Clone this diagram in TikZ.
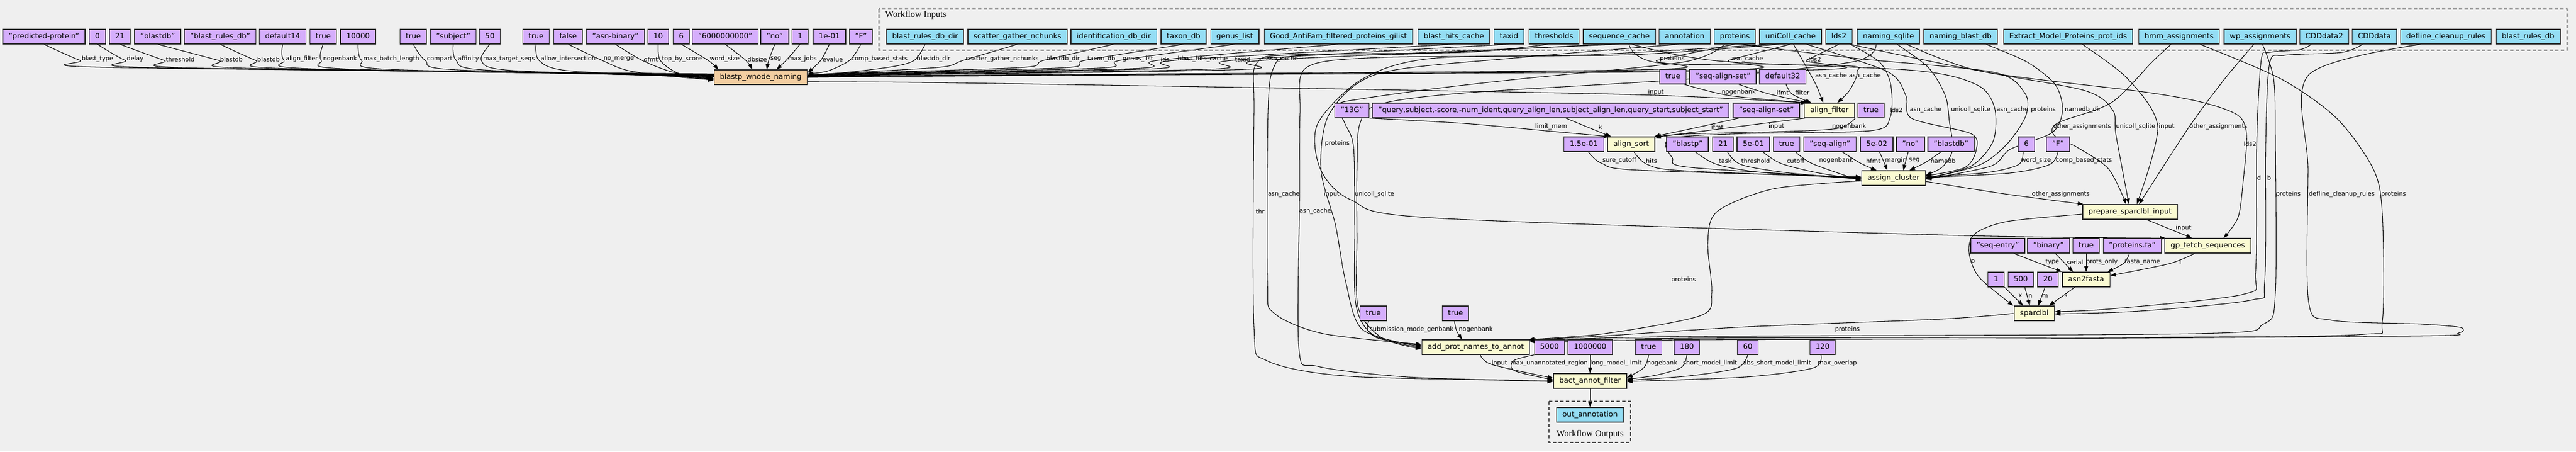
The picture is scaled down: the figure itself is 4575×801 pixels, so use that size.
\documentclass[tikz,border=0pt]{standalone}
\usepackage{fontspec}
\setmainfont{DejaVu Sans}
\newfontfamily\clusterfont{Liberation Serif}
\usetikzlibrary{positioning,calc,arrows.meta,backgrounds}
\definecolor{bgcol}{HTML}{EFEFEF}
\definecolor{constfill}{HTML}{D5AEFC}
\definecolor{inputfill}{HTML}{94DDF4}
\definecolor{stepfill}{HTML}{FAFAD2}
\definecolor{subwffill}{HTML}{F3CEA1}

\begin{document}
\begin{tikzpicture}[x=1pt,y=-1pt,
	box/.style={rectangle,draw=black!85,line width=1.3pt,minimum height=26pt,inner xsep=10.3pt,inner ysep=0pt,text height=9.5pt,text depth=3pt,font=\fontsize{13}{15}\selectfont},
	const/.style={box,fill=constfill},
	wfin/.style={box,fill=inputfill},
	stepbox/.style={box,fill=stepfill},
	subwf/.style={box,fill=subwffill},
	elabel/.style={inner sep=0pt,font=\fontsize{10.8}{12}\selectfont},
	wire/.style={line width=1.05pt,-{Triangle[length=10pt,width=7pt]}},
	clusterbox/.style={draw=black!70,line width=1.3pt,dash pattern=on 6pt off 4pt},
	clusterlab/.style={inner sep=0pt,font=\clusterfont\fontsize{16}{18}\selectfont}]
		\useasboundingbox (0,0) rectangle (4575,801);
		% clusters
		\draw[clusterbox] (1561,16) rectangle (4559,89);
		\node[clusterlab,anchor=west] (wfinlab) at (1572,27) {Workflow Inputs};
		\draw[clusterbox] (2751,712) rectangle (2896,785);
		\node[clusterlab] (wfoutlab) at (2824,771) {Workflow Outputs};
		% constants, first row
		\node[const] (kbt) at (78,65) {"predicted-protein"};
		\node[const] (kdl) at (173,65) {0};
		\node[const] (kth) at (213,65) {21};
		\node[const] (kbd) at (280,65) {"blastdb"};
		\node[const] (kbr) at (391,65) {"blast\_rules\_db"};
		\node[const] (kaf) at (502,65) {default14};
		\node[const] (kng) at (574,65) {true};
		\node[const] (kmb) at (636,65) {10000};
		\node[const] (kcp) at (734,65) {true};
		\node[const] (kafy) at (805,65) {"subject"};
		\node[const] (kmt) at (870,65) {50};
		\node[const] (kai) at (952,65) {true};
		\node[const] (knm) at (1009,65) {false};
		\node[const] (kof) at (1093,65) {"asn-binary"};
		\node[const] (ktb) at (1169,65) {10};
		\node[const] (kws) at (1210,65) {6};
		\node[const] (kds) at (1288,65) {"6000000000"};
		\node[const] (ksg) at (1376,65) {"no"};
		\node[const] (kmj) at (1421,65) {1};
		\node[const] (kev) at (1473,65) {1e-01};
		\node[const] (kcb) at (1529,65) {"F"};
		% workflow inputs
		\node[wfin] (ibrd) at (1643,65) {blast\_rules\_db\_dir};
		\node[wfin] (isgn) at (1807,65) {scatter\_gather\_nchunks};
		\node[wfin] (iidd) at (1978,65) {identification\_db\_dir};
		\node[wfin] (itx) at (2102,65) {taxon\_db};
		\node[wfin] (igl) at (2193,65) {genus\_list};
		\node[wfin] (igaf) at (2377,65) {Good\_AntiFam\_filtered\_proteins\_gilist};
		\node[wfin] (ibhc) at (2582,65) {blast\_hits\_cache};
		\node[wfin] (itid) at (2680,65) {taxid};
		\node[wfin] (ith) at (2760,65) {thresholds};
		\node[wfin] (isc) at (2876,65) {sequence\_cache};
		\node[wfin] (ian) at (2992,65) {annotation};
		\node[wfin] (ipr) at (3081,65) {proteins};
		\node[wfin] (iuc) at (3180,65) {uniColl\_cache};
		\node[wfin] (ilds) at (3266,65) {lds2};
		\node[wfin] (inqs) at (3354,65) {naming\_sqlite};
		\node[wfin] (inbd) at (3482,65) {naming\_blast\_db};
		\node[wfin] (iemp) at (3673,65) {Extract\_Model\_Proteins\_prot\_ids};
		\node[wfin] (ihmm) at (3870,65) {hmm\_assignments};
		\node[wfin] (iwp) at (4014,65) {wp\_assignments};
		\node[wfin] (icd2) at (4128,65) {CDDdata2};
		\node[wfin] (icd) at (4217,65) {CDDdata};
		\node[wfin] (idcr) at (4344,65) {defline\_cleanup\_rules};
		\node[wfin] (ibrdb) at (4490,65) {blast\_rules\_db};
		% steps
		\node[subwf] (bwn) at (1351,137) {blastp\_wnode\_naming};
		\node[stepbox] (af) at (3249,196) {align\_filter};
		\node[stepbox] (as) at (2897,256) {align\_sort};
		\node[stepbox] (ac) at (3363,316) {assign\_cluster};
		\node[stepbox] (pr) at (3783,376) {prepare\_sparclbl\_input};
		\node[stepbox] (gf) at (3921,436) {gp\_fetch\_sequences};
		\node[stepbox] (a2f) at (3705,496) {asn2fasta};
		\node[stepbox] (sp) at (3613,556) {sparclbl};
		\node[stepbox] (apn) at (2621,616) {add\_prot\_names\_to\_annot};
		\node[stepbox] (baf) at (2824,676) {bact\_annot\_filter};
		\node[wfin] (out) at (2824,736) {out\_annotation};
		% constants of the other steps
		\node[const] (kaft) at (2971,136) {true};
		\node[const] (kafi) at (3060,136) {"seq-align-set"};
		\node[const] (kaff) at (3166,136) {default32};
		\node[const] (k13) at (2401,196) {"13G"};
		\node[const] (kq) at (2754,196) {"query,subject,-score,-num\_ident,query\_align\_len,subject\_align\_len,query\_start,subject\_start"};
		\node[const] (kasi) at (3137,196) {"seq-align-set"};
		\node[const] (kasn) at (3323,196) {true};
		\node[const] (ksc) at (2813,256) {1.5e-01};
		\node[const] (ktk) at (2997,256) {"blastp"};
		\node[const] (kt21) at (3060,256) {21};
		\node[const] (kcut) at (3114,256) {5e-01};
		\node[const] (kacn) at (3173,256) {true};
		\node[const] (khf) at (3250,256) {"seq-align"};
		\node[const] (kmg) at (3333,256) {5e-02};
		\node[const] (kseg) at (3393,256) {"no"};
		\node[const] (knd) at (3465,256) {"blastdb"};
		\node[const] (kaws) at (3599,256) {6};
		\node[const] (kacb) at (3655,256) {"F"};
		\node[const] (kse) at (3548,436) {"seq-entry"};
		\node[const] (kbin) at (3638,436) {"binary"};
		\node[const] (kpo) at (3705,436) {true};
		\node[const] (kpf) at (3787,436) {"proteins.fa"};
		\node[const] (kx) at (3545,496) {1};
		\node[const] (kn) at (3589,496) {500};
		\node[const] (km) at (3637,496) {20};
		\node[const] (ksm) at (2439,556) {true};
		\node[const] (kng2) at (2585,556) {true};
		\node[const] (kmu) at (2752,616) {5000};
		\node[const] (kll) at (2824,616) {1000000};
		\node[const] (kbng) at (2928,616) {true};
		\node[const] (ksml) at (2996,616) {180};
		\node[const] (kasml) at (3104,616) {60};
		\node[const] (kmo) at (3237,616) {120};

		\begin{scope}[on background layer]
		\fill[bgcol] (0,0) rectangle (4575,801);
		% into blastp_wnode_naming, from the left
		\foreach \s/\t/\lx [count=\i] in {kbt/blast\_type/173,kdl/delay/240,kth/threshold/320,kbd/blastdb/411,kbr/blastdb/477,kaf/align\_filter/536,kng/nogenbank/604,kmb/max\_batch\_length/695,kcp/compart/781,kafy/affinity/832,kmt/max\_target\_seqs/904,kai/allow\_intersection/1009,knm/no\_merge/1099}{
			\node[elabel] (la\i) at (\lx,105) {\t};
			\draw[wire] plot[smooth] coordinates {(\s.south) ([xshift=-3pt,yshift=-2pt]la\i.west) ($(la\i.west)+(45,14+0.5*\i)$) (1205,130+0.5*\i) ([yshift={7pt-0.9pt*\i}]bwn.west)};
		}
		\node[elabel] (lof) at (1156,105) {ofmt};
		\draw[wire] plot[smooth] coordinates {(kof.south) ([xshift=-3pt,yshift=-2pt]lof.west) (1195,128) ([yshift=-4pt]bwn.west)};
		\node[elabel] (ltb) at (1211,105) {top\_by\_score};
		\draw[wire] plot[smooth] coordinates {(ktb.south) ([xshift=-3pt,yshift=-2pt]ltb.west) (1205,130) ([yshift=-6pt]bwn.west)};
		% from above
		\node[elabel] (lws) at (1287,105) {word\_size};
		\draw[wire] plot[smooth] coordinates {(kws.south) ([xshift=-3pt,yshift=-2pt]lws.west) ([xshift=-75pt]bwn.north)};
		\node[elabel] (ldbs) at (1345,105) {dbsize};
		\draw[wire] plot[smooth] coordinates {(kds.south) ([xshift=-3pt,yshift=-2pt]ldbs.west) ([xshift=-15pt]bwn.north)};
		\node[elabel] (lseg) at (1378,105) {seg};
		\draw[wire] plot[smooth] coordinates {(ksg.south) ([xshift=-3pt,yshift=-2pt]lseg.west) ([xshift=11pt]bwn.north)};
		\node[elabel] (lmj) at (1425,105) {max\_jobs};
		\draw[wire] plot[smooth] coordinates {(kmj.south) ([xshift=-3pt,yshift=-2pt]lmj.west) ([xshift=28pt]bwn.north)};
		% from the right
		\node[elabel] (lev) at (1479,105) {evalue};
		\draw[wire] plot[smooth] coordinates {(kev.south) ([xshift=-3pt,yshift=-2pt]lev.west) ([yshift=8pt]bwn.east)};
		\node[elabel] (lcbs) at (1562,105) {comp\_based\_stats};
		\draw[wire] plot[smooth] coordinates {(kcb.south) ([xshift=-3pt,yshift=-2pt]lcbs.west) (1470,126) ([yshift=6pt]bwn.east)};
		\foreach \s/\t/\lx [count=\i] in {ibrd/blastdb\_dir/1658,isgn/scatter\_gather\_nchunks/1780,iidd/blastdb\_dir/1888,itx/taxon\_db/1956,igl/genus\_list/2021,igaf/ids/2069,ibhc/blast\_hits\_cache/2136,itid/taxid/2207,isc/asn\_cache/2277,ipr/proteins/2970,iuc/asn\_cache/3103,ilds/lds2/3223}{
			\node[elabel] (lb\i) at (\lx,105) {\t};
			\draw[wire] plot[smooth] coordinates {(\s.south) ([xshift=-4pt,yshift=-2pt]lb\i.west) ($(lb\i.west)+(-45,13+0.6*\i)$) (1500,128+0.7*\i) ([yshift={5pt-0.9pt*\i}]bwn.east)};
		}

		% align_filter
		\node[elabel] (lafin) at (2941,164) {input};
		\draw[wire] plot[smooth] coordinates {([yshift=-8pt]bwn.east) (1700,147) (2500,160) (2940,169) ([xshift=4pt]af.north west)};
		\node[elabel] (lafng) at (3088,164) {nogenbank};
		\draw[wire] plot[smooth] coordinates {([xshift=-4pt]kaft.south east) (3074,170) ([xshift=6pt]af.north west)};
		\node[elabel] (lafif) at (3166,164) {ifmt};
		\draw[wire] plot[smooth] coordinates {([xshift=28pt]kafi.south) (3143,167) ([xshift=9pt]af.north west)};
		\node[elabel] (laffl) at (3201,164) {filter};
		\draw[wire] plot[smooth] coordinates {([xshift=6pt]kaff.south) (3183,167) ([xshift=13pt]af.north west)};
		\node[elabel] (lafac1) at (3252,135) {asn\_cache};
		\draw[wire] plot[smooth] coordinates {([xshift=5pt]iuc.south) (3203,110) (3225,150) ([xshift=-11pt]af.north)};
		\node[elabel] (lafac2) at (3312,135) {asn\_cache};
		\draw[wire] plot[smooth] coordinates {([xshift=17pt]isc.south) (2950,112) (3271,116) (3298,128) (3285,160) ([xshift=14pt]af.north)};

		% align_sort
		\node[elabel] (lasm) at (2755,225) {limit\_mem};
		\draw[wire] plot[smooth] coordinates {(k13.south east) (2600,219) (2755,233) ([xshift=5pt]as.north west)};
		\node[elabel] (lask) at (2842,225) {k};
		\draw[wire] plot[smooth] coordinates {([xshift=27pt]kq.south) (2828,229) ([xshift=7pt]as.north west)};
		\node[elabel] (lasif) at (3050,225) {ifmt};
		\draw[wire] plot[smooth] coordinates {([xshift=-49pt]kasi.south) (3010,227) ([xshift=-2pt]as.north east)};
		\node[elabel] (lasin) at (3155,225) {input};
		\draw[wire] plot[smooth] coordinates {([xshift=2pt]af.south west) (3100,223) (2990,237) (as.north east)};
		\node[elabel] (lasng) at (3284,225) {nogenbank};
		\draw[wire] plot[smooth] coordinates {([xshift=-28pt]kasn.south) (3263,228) (3150,234) (2990,238) ([yshift=-3pt]as.north east)};

		% assign_cluster
		\node[elabel] (lacsc) at (2876,285) {sure\_cutoff};
		\draw[wire] plot[smooth] coordinates {([xshift=8pt]ksc.south) (2845,290) (2910,302) ([yshift=2pt]ac.west)};
		\node[elabel] (lachi) at (2933,285) {hits};
		\draw[wire] plot[smooth] coordinates {([xshift=5pt]as.south) (2926,292) (2990,303) ([yshift=1pt]ac.west)};
		\node[elabel] (lacl2) at (3368,195) {lds2};
		\draw[wire] plot[smooth] coordinates {([xshift=20pt]ilds.south) (3338,110) (3358,150) (3357,208) (3322,232) (3100,237) (2966,246) (2970,280) (3002,297) (ac.west)};
		\node[elabel] (lactk) at (3064,285) {task};
		\draw[wire] plot[smooth] coordinates {([xshift=14pt]ktk.south) (3050,292) (3130,306) ([yshift=-1pt]ac.west)};
		\node[elabel] (lacth) at (3118,285) {threshold};
		\draw[wire] plot[smooth] coordinates {([xshift=8pt]kt21.south) (3092,292) (3170,306) ([yshift=-2pt]ac.west)};
		\node[elabel] (laccu) at (3189,285) {cutoff};
		\draw[wire] plot[smooth] coordinates {([xshift=17pt]kcut.south) (3163,290) (3225,306) ([yshift=-3pt]ac.west)};
		\node[elabel] (lacng) at (3261,285) {nogenbank};
		\draw[wire] plot[smooth] coordinates {([xshift=16pt]kacn.south) (3220,291) ([yshift=-5pt]ac.west)};
		\node[elabel] (lachf) at (3327,285) {hfmt};
		\draw[wire] plot[smooth] coordinates {([xshift=22pt]khf.south) (3305,290) ([xshift=-30pt]ac.north)};
		\node[elabel] (lacmg) at (3367,285) {margin};
		\draw[wire] plot[smooth] coordinates {([xshift=5pt]kmg.south) (3346,288) ([xshift=-11pt]ac.north)};
		\node[elabel] (lacsg) at (3400,285) {seg};
		\draw[wire] plot[smooth] coordinates {([xshift=-4pt]kseg.south) (3384,288) ([xshift=17pt]ac.north)};
		\node[elabel] (lacnd) at (3451,285) {namedb};
		\draw[wire] plot[smooth] coordinates {([xshift=-18pt]knd.south) (3420,288) ([xshift=28pt]ac.north)};
		\node[elabel] (lacws) at (3616,285) {word\_size};
		\draw[wire] plot[smooth] coordinates {([xshift=-6pt]kaws.south) (3585,292) (3530,306) ([yshift=2pt]ac.east)};
		\node[elabel] (laccb) at (3701,285) {comp\_based\_stats};
		\draw[wire] plot[smooth] coordinates {(kacb.south) (3640,292) (3570,307) ([yshift=1pt]ac.east)};
		\node[elabel] (lacac1) at (3420,195) {asn\_cache};
		\draw[wire] plot[smooth] coordinates {([xshift=28pt]iuc.south) (3352,127) (3385,170) (3395,210) (3500,237) (3510,265) (3490,297) ([yshift=4pt]ac.east)};
		\node[elabel] (lacus) at (3500,195) {unicoll\_sqlite};
		\draw[wire] plot[smooth] coordinates {([xshift=15pt]inqs.south) (3425,120) (3455,170) (3462,215) (3468,265) (3450,296) ([yshift=5pt]ac.east)};
		\node[elabel] (lacac2) at (3574,195) {asn\_cache};
		\draw[wire] plot[smooth] coordinates {([xshift=22pt]isc.south) (3050,108) (3400,125) (3510,150) (3542,190) (3540,250) (3500,295) (ac.east)};
		\node[elabel] (lacpr) at (3629,195) {proteins};
		\draw[wire] plot[smooth] coordinates {([xshift=12pt]ipr.south) (3300,104) (3540,128) (3596,165) (3598,205) (3565,255) (3515,293) ([yshift=-1pt]ac.east)};
		\node[elabel] (lacnb) at (3699,195) {namedb\_dir};
		\draw[wire] plot[smooth] coordinates {([xshift=45pt]inbd.south) (3600,110) (3650,150) (3663,195) (3645,235) (3570,265) (3535,295) ([yshift=-2pt]ac.east)};

		% prepare_sparclbl_input
		\node[elabel] (lproa) at (3660,345) {other\_assignments};
		\draw[wire] plot[smooth] coordinates {([yshift=-6pt]ac.east) (3560,344) ([xshift=2pt]pr.north west)};
		\node[elabel] (lproh) at (3698,225) {other\_assignments};
		\draw[wire] plot[smooth] coordinates {([xshift=-14pt]ihmm.south) (3822,110) (3750,182) (3655,218) (3648,240) (3690,262) (3745,300) ([xshift=-7pt]pr.north)};
		\node[elabel] (lprow) at (3940,225) {other\_assignments};
		\draw[wire] plot[smooth] coordinates {([xshift=-11pt]iwp.south) (3951,140) (3888,225) ([xshift=16pt]pr.north)};
		\node[elabel] (lprin) at (3848,225) {input};
		\draw[wire] plot[smooth] coordinates {([xshift=25pt]iemp.south) (3779,140) (3832,225) ([xshift=12pt]pr.north)};
		\node[elabel] (lprus) at (3793,225) {unicoll\_sqlite};
		\draw[wire] plot[smooth] coordinates {([xshift=32pt]inqs.south) (3500,122) (3700,160) (3752,195) (3758,240) ([xshift=-2pt]pr.north)};

		% gp_fetch_sequences
		\node[elabel] (lgfin) at (3878,405) {input};
		\draw[wire] ([xshift=29pt]pr.south) -- ([xshift=-28pt]gf.north);
		\node[elabel] (lgfl2) at (3996,255) {lds2};
		\draw[wire] plot[smooth] coordinates {([xshift=20pt]ilds.south) (3540,130) (3807,163) (3913,182) (3975,205) (3990,240) (3984,320) (3975,385) ([xshift=28pt]gf.north)};
		\draw[wire] plot[smooth] coordinates {([xshift=-20pt]iuc.south) (2900,97) (2550,103) (2420,140) (2340,220) (2345,300) (2400,355) (2550,387) (3450,417) ([xshift=2pt]gf.north west)};

		% asn2fasta
		\node[elabel] (la2ty) at (3645,465) {type};
		\draw[wire] ([xshift=28pt]kse.south) -- ([xshift=-43pt]a2f.north);
		\node[elabel] (la2se) at (3685,465) {serial};
		\draw[wire] ([xshift=12pt]kbin.south) -- ([xshift=-23pt]a2f.north);
		\node[elabel] (la2po) at (3733,465) {prots\_only};
		\draw[wire] (kpo.south) -- (a2f.north);
		\node[elabel] (la2fn) at (3805,465) {fasta\_name};
		\draw[wire] plot[smooth] coordinates {([xshift=-5pt]kpf.south) (3772,467) ([xshift=38pt]a2f.north)};
		\node[elabel] (la2i) at (3872,465) {i};
		\draw[wire] plot[smooth] coordinates {([xshift=-23pt]gf.south) (3852,468) ([yshift=7pt]a2f.east)};

		% sparclbl
		\node[elabel] (lspx) at (3588,525) {x};
		\draw[wire] ([xshift=15pt]kx.south) -- ([xshift=-20pt]sp.north);
		\node[elabel] (lspn) at (3606,525) {n};
		\draw[wire] ([xshift=7pt]kn.south) -- ([xshift=-8pt]sp.north);
		\node[elabel] (lspm) at (3632,525) {m};
		\draw[wire] ([xshift=-5pt]km.south) -- ([xshift=7pt]sp.north);
		\node[elabel] (lsps) at (3669,525) {s};
		\draw[wire] ([xshift=-20pt]a2f.south) -- ([xshift=26pt]sp.north);
		\node[elabel] (lspp) at (3504,465) {p};
		\draw[wire] plot[smooth] coordinates {([yshift=-4pt]pr.west) (3565,393) (3507,415) (3497,448) (3515,492) ([xshift=-1pt]sp.north west)};
		\node[elabel] (lspd) at (4012,315) {d};
		\draw[wire] plot[smooth] coordinates {([xshift=-23pt]icd2.south) (4085,88) (4031,93) (4016,106) (4008,250) (4006,480) (3985,522) (3750,548) ([yshift=3pt]sp.east)};
		\node[elabel] (lspb) at (4030,315) {b};
		\draw[wire] plot[smooth] coordinates {([xshift=-21pt]icd.south) (4159,93) (4058,98) (4031,112) (4024,250) (4022,500) (4000,532) (3800,552) ([yshift=-1pt]sp.east)};

		% add_prot_names_to_annot
		\node[elabel] (lapsm) at (2507,585) {submission\_mode\_genbank};
		\draw[wire] plot[smooth] coordinates {([xshift=-8pt]ksm.south) (2429,585) (2450,601) ([yshift=3pt]apn.west)};
		\node[elabel] (lapng) at (2621,585) {nogenbank};
		\draw[wire] plot[smooth] coordinates {([xshift=-2pt]kng2.south) (2587,587) ([xshift=-24pt]apn.north)};
		\node[elabel] (lapin) at (2365,345) {input};
		\draw[wire] plot[smooth] coordinates {([xshift=-10pt]ian.south) (2700,102) (2450,130) (2362,200) (2346,300) (2372,400) (2390,500) (2420,585) ([yshift=1pt]apn.west)};
		\node[elabel] (lappr) at (2375,255) {proteins};
		\draw[wire] plot[smooth] coordinates {([xshift=-18pt]ipr.south) (2990,110) (2700,140) (2550,157) (2420,175) (2375,186) (2388,218) (2404,262) (2406,400) (2408,540) (2440,595) ([yshift=-1pt]apn.west)};
		\node[elabel] (lapus) at (2441,345) {unicoll\_sqlite};
		\draw[wire] plot[smooth] coordinates {([xshift=-22pt]inqs.south) (3289,110) (3000,140) (2600,165) (2450,185) (2415,220) (2410,300) (2410,420) (2412,545) (2455,600) ([yshift=-3pt]apn.west)};
		\node[elabel] (lapac) at (2280,345) {asn\_cache};
		\draw[wire] plot[smooth] coordinates {([xshift=-25pt]isc.south) (2500,96) (2300,99) (2262,120) (2252,200) (2251,500) (2262,555) (2350,592) ([yshift=5pt]apn.west)};
		\node[elabel] (lappa) at (2990,497) {proteins};
		\draw[wire] plot[smooth] coordinates {([yshift=-5pt]ac.west) (3150,335) (3050,375) (3033,430) (3040,520) (3020,560) (2850,592) ([xshift=-3pt]apn.north east)};
		\node[elabel] (lapps) at (3281,585) {proteins};
		\draw[wire] plot[smooth] coordinates {(sp.west) (3450,566) (3100,580) (2850,596) ([xshift=-2pt,yshift=-1pt]apn.north east)};
		\node[elabel] (lappw) at (4064,345) {proteins};
		\draw[wire] plot[smooth] coordinates {([xshift=4pt]iwp.south) (4038,140) (4041,250) (4041,520) (4020,575) (3900,592) (3000,597) ([yshift=-2pt]apn.north east)};
		\node[elabel] (lapph) at (4251,345) {proteins};
		\draw[wire] plot[smooth] coordinates {([xshift=37pt]ihmm.south) (4051,140) (4150,210) (4215,300) (4231,380) (4231,570) (4200,593) (3900,598) (3000,600) ([yshift=-3pt]apn.north east)};
		\node[elabel] (lapdc) at (4159,345) {defline\_cleanup\_rules};
		\draw[wire] plot[smooth] coordinates {([xshift=-44pt]idcr.south) (4100,133) (4099,300) (4100,535) (4140,568) (4300,575) (4370,581) (4366,591) (4300,596) (3600,601) (3000,603) ([yshift=-4pt]apn.north east)};

		% bact_annot_filter
		\node[elabel] (lbfin) at (2663,645) {input};
		\draw[wire] plot[smooth] coordinates {([xshift=8pt]apn.south) (2650,647) ([yshift=5pt]baf.west)};
		\node[elabel] (lbfmu) at (2751,645) {max\_unannotated\_region};
		\draw[wire] plot[smooth] coordinates {(kmu.south west) (2688,640) (2690,658) ([yshift=2pt]baf.west)};
		\node[elabel] (lbfll) at (2870,645) {long\_model\_limit};
		\draw[wire] (kll.south) -- (baf.north);
		\node[elabel] (lbfng) at (2952,645) {nogebank};
		\draw[wire] plot[smooth] coordinates {(kbng.south) (2920,652) ([yshift=6pt]baf.east)};
		\node[elabel] (lbfsm) at (3037,645) {short\_model\_limit};
		\draw[wire] plot[smooth] coordinates {(ksml.south) (2986,652) (2940,666) ([yshift=3pt]baf.east)};
		\node[elabel] (lbfas) at (3156,645) {abs\_short\_model\_limit};
		\draw[wire] plot[smooth] coordinates {(kasml.south) (3085,653) (3000,667) ([yshift=1pt]baf.east)};
		\node[elabel] (lbfmo) at (3263,645) {max\_overlap};
		\draw[wire] plot[smooth] coordinates {([xshift=-3pt]kmo.south) (3220,653) (3100,669) ([yshift=-1pt]baf.east)};
		\node[elabel] (lbfth) at (2238,375) {thr};
		\draw[wire] plot[smooth] coordinates {([xshift=-10pt]ith.south) (2600,93) (2300,97) (2232,112) (2227,200) (2227,580) (2250,640) (2400,668) ([yshift=1pt]baf.west)};
		\node[elabel] (lbfac) at (2336,375) {asn\_cache};
		\draw[wire] plot[smooth] coordinates {([xshift=-35pt]iuc.south) (2800,98) (2450,102) (2320,120) (2309,200) (2308,350) (2307,620) (2340,650) (2500,669) ([yshift=-1pt]baf.west)};
		% output
		\draw[wire] (baf.south) -- (out.north);
		\end{scope}
	\end{tikzpicture}
\end{document}
